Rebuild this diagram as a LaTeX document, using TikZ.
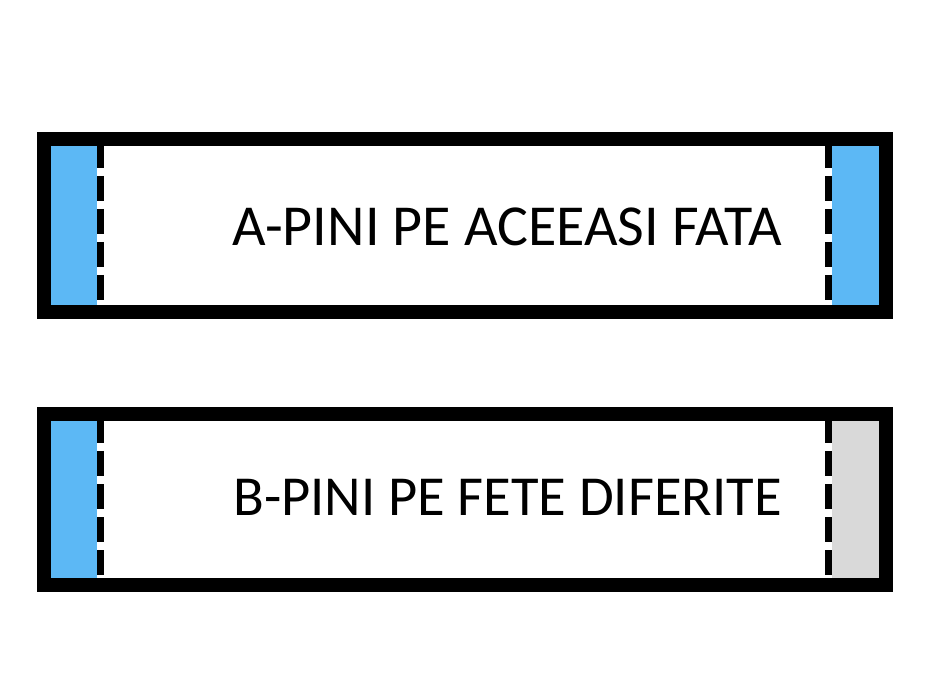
\documentclass[tikz,border=0pt]{standalone}
\usepackage{fontspec}
\setmainfont{Carlito}
\definecolor{pinblue}{RGB}{92,184,245}
\definecolor{pingray}{RGB}{217,217,217}
\tikzset{
  frame/.style={draw=black, line width=14pt},
  panelblue/.style={fill=pinblue},
  panelgray/.style={fill=pingray},
  cutback/.style={draw=white, line width=7pt},
  cutline/.style={draw=black, line width=7pt, dash pattern=on 25pt off 8pt, dash phase=3pt},
  label/.style={inner sep=0pt, anchor=base east}
}
\begin{document}
\begin{tikzpicture}[x=1pt,y=-1pt]
\useasboundingbox[fill=white] (0,0) rectangle (940,700);
% Box A
\fill[panelblue] (51,146) rectangle (100,305);
\fill[panelblue] (828,146) rectangle (879,305);
\coordinate (a1t) at (100.5,146); \coordinate (a1b) at (100.5,305);
\coordinate (a2t) at (828,146); \coordinate (a2b) at (828,305);
\draw[cutback] (a1t) -- (a1b);
\draw[cutline] (a1t) -- (a1b);
\draw[cutback] (a2t) -- (a2b);
\draw[cutline] (a2t) -- (a2b);
\draw[frame] (44,139) rectangle (886,312);
\node[label, font=\fontsize{58}{60}\selectfont] (labA) at (782,246) {A-PINI PE ACEEASI FATA};
% Box B
\fill[panelblue] (51,421) rectangle (100,578);
\fill[panelgray] (828,421) rectangle (879,578);
\coordinate (b1t) at (100.5,421); \coordinate (b1b) at (100.5,578);
\coordinate (b2t) at (828,421); \coordinate (b2b) at (828,578);
\draw[cutback] (b1t) -- (b1b);
\draw[cutline] (b1t) -- (b1b);
\draw[cutback] (b2t) -- (b2b);
\draw[cutline] (b2t) -- (b2b);
\draw[frame] (44,414) rectangle (886,585);
\node[label, font=\fontsize{56.5}{60}\selectfont] (labB) at (782,515) {B-PINI PE FETE DIFERITE};
\end{tikzpicture}
\end{document}
